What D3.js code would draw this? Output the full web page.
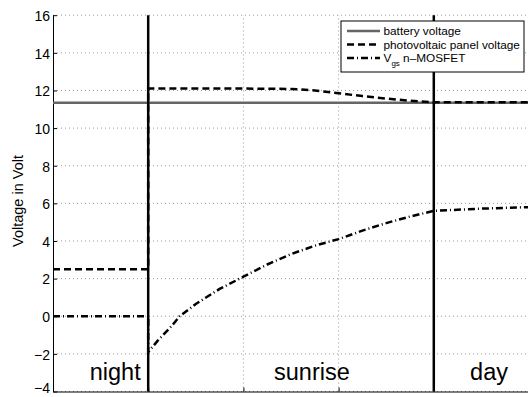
<!DOCTYPE html>
<html>
<head>
<meta charset="utf-8">
<script src="https://cdn.jsdelivr.net/npm/d3@7"></script>
<style>
  body { margin: 0; background: #fff; }
  text { font-family: "Liberation Sans", Arial, sans-serif; }
</style>
</head>
<body>
<div id="chart"></div>
<script>
// values
var yTicks = [-4, -2, 0, 2, 4, 6, 8, 10, 12, 14, 16];
var xGrid = [1, 2, 3, 4];
var phaseEdges = [1, 4];
var phaseNames = ["night", "sunrise", "day"];

var batteryX = [0, 5];
var batteryV = [11.35, 11.35];

var panelX = [0, 1, 1, 1.5, 2, 2.5, 2.75, 3, 3.25, 3.5, 3.75, 4, 5];
var panelV = [2.5, 2.5, 12.1, 12.1, 12.1, 12.08, 12.0, 11.85, 11.7, 11.57, 11.45, 11.37, 11.37];

var vgsX = [0, 1, 1, 1.1, 1.25, 1.33, 1.5, 1.75, 2, 2.25, 2.5, 2.75, 3, 3.25, 3.5, 3.75, 4, 4.5, 5];
var vgsV = [0, 0, -1.9, -1.3, -0.5, 0, 0.65, 1.45, 2.1, 2.75, 3.3, 3.75, 4.1, 4.55, 4.95, 5.3, 5.6, 5.72, 5.8];

var legendNames = ["battery voltage", "photovoltaic panel voltage", "Vgs n\u2013MOSFET"];

var W = 528, H = 397;
var margin = {top: 15.2, right: -1, bottom: 5.5, left: 53};

var x = d3.scaleLinear().domain([0, 5]).range([margin.left, W - margin.right]);
var y = d3.scaleLinear().domain([-4, 16]).range([H - margin.bottom, margin.top]);

var svg = d3.select("#chart").append("svg")
  .attr("width", W)
  .attr("height", H);

var plot = svg.append("g");

// grid
plot.selectAll(".hgrid")
  .data(yTicks)
  .enter().append("line")
  .attr("x1", x(0)).attr("x2", x(5))
  .attr("y1", function(d) { return y(d); })
  .attr("y2", function(d) { return y(d); })
  .attr("stroke", "#9a9a9a")
  .attr("stroke-width", 1)
  .attr("stroke-dasharray", "1,3");

plot.selectAll(".vgrid")
  .data(xGrid)
  .enter().append("line")
  .attr("x1", function(d) { return x(d); })
  .attr("x2", function(d) { return x(d); })
  .attr("y1", y(-4)).attr("y2", y(16))
  .attr("stroke", "#9a9a9a")
  .attr("stroke-width", 1)
  .attr("stroke-dasharray", "1,3");

// left axis, ticks inward
var yAxis = plot.append("g")
  .attr("transform", "translate(" + x(0) + ",0)")
  .call(d3.axisLeft(y).tickValues(yTicks).tickSizeInner(-4).tickSizeOuter(0).tickPadding(3));
yAxis.select(".domain").attr("stroke", "#000");
yAxis.selectAll("text").attr("font-size", 14).attr("fill", "#000")
  .attr("font-family", "Liberation Sans, Arial, sans-serif")
  .attr("dy", function(d) { return d === -4 ? "0.1em" : "0.38em"; });

// bottom axis, ticks inward, no labels
var xAxis = plot.append("g")
  .attr("transform", "translate(0," + y(-4) + ")")
  .call(d3.axisBottom(x).tickValues(xGrid).tickSizeInner(-4).tickSizeOuter(0).tickFormat(""));
xAxis.select(".domain").attr("stroke", "#000");

svg.append("text")
  .attr("transform", "translate(23,201) rotate(-90)")
  .attr("text-anchor", "middle")
  .attr("font-size", 14.5)
  .text("Voltage in Volt");

function pts(xs, vs) {
  return xs.map(function(d, i) { return [d, vs[i]]; });
}

var line = d3.line()
  .x(function(d) { return x(d[0]); })
  .y(function(d) { return y(d[1]); });

plot.append("path")
  .datum(pts(batteryX, batteryV))
  .attr("d", line)
  .attr("fill", "none")
  .attr("stroke", "#666")
  .attr("stroke-width", 2.5);

plot.append("path")
  .datum(pts(panelX, panelV))
  .attr("d", line)
  .attr("fill", "none")
  .attr("stroke", "#000")
  .attr("stroke-width", 2.5)
  .attr("stroke-dasharray", "7,4");

plot.append("path")
  .datum(pts(vgsX, vgsV))
  .attr("d", line)
  .attr("fill", "none")
  .attr("stroke", "#000")
  .attr("stroke-width", 2.5)
  .attr("stroke-dasharray", "7,3,1,3");

// phase boundaries
plot.selectAll(".edge")
  .data(phaseEdges)
  .enter().append("line")
  .attr("x1", function(d) { return x(d); })
  .attr("x2", function(d) { return x(d); })
  .attr("y1", y(-4)).attr("y2", y(16))
  .attr("stroke", "#000")
  .attr("stroke-width", 2.5);

// phase labels
var labelAt = [x(phaseEdges[0]) - 33, x(2.72), x(4.58)];
plot.selectAll(".phase")
  .data(phaseNames)
  .enter().append("text")
  .attr("x", function(d, i) { return labelAt[i]; })
  .attr("y", y(-4) - 11.5)
  .attr("text-anchor", "middle")
  .attr("font-size", 23.5)
  .text(function(d) { return d; });

// legend
var lg = svg.append("g").attr("transform", "translate(341,21)");
lg.append("rect")
  .attr("width", 183).attr("height", 51)
  .attr("fill", "#fff").attr("stroke", "#000").attr("stroke-width", 1);

var styles = [
  {stroke: "#666", dash: null},
  {stroke: "#000", dash: "7,4"},
  {stroke: "#000", dash: "7,3,1,3"}
];
legendNames.forEach(function(name, i) {
  var ly = 10 + i * 13.5;
  lg.append("line")
    .attr("x1", 6).attr("x2", 39)
    .attr("y1", ly).attr("y2", ly)
    .attr("stroke", styles[i].stroke)
    .attr("stroke-width", 2.5)
    .attr("stroke-dasharray", styles[i].dash);
  var t = lg.append("text")
    .attr("x", 42.5).attr("y", ly + 4)
    .attr("font-size", 11.8);
  if (i === 2) {
    t.append("tspan").text("V");
    t.append("tspan").attr("font-size", 8).attr("dy", 4).text("gs");
    t.append("tspan").attr("dy", -4).text(" n\u2013MOSFET");
  } else {
    t.text(name);
  }
});
</script>
</body>
</html>
